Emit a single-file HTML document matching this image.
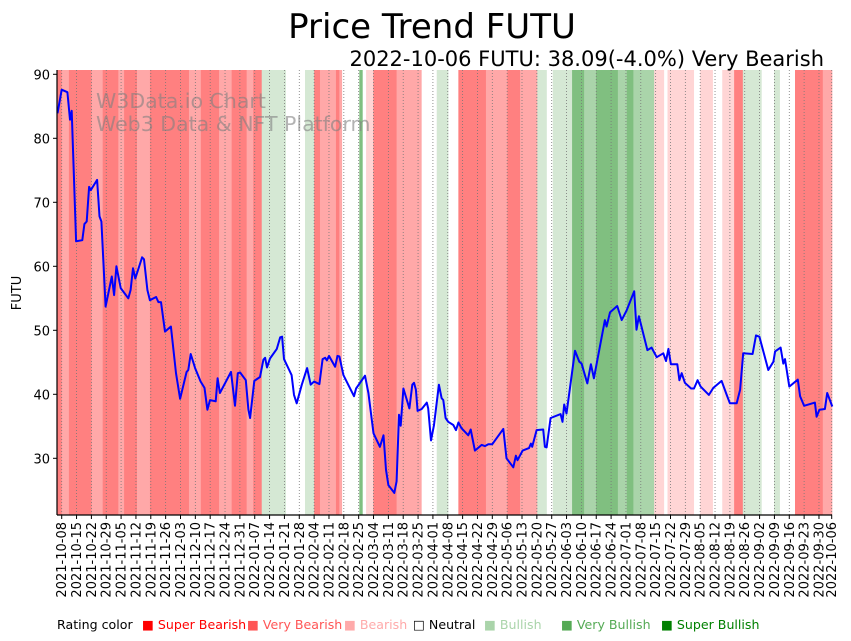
<!DOCTYPE html>
<html><head><meta charset="utf-8">
<style>
body{margin:0;background:#fff;width:851px;height:641px;overflow:hidden;font-family:"Liberation Sans","DejaVu Sans",sans-serif;}
#wrap{position:relative;width:851px;height:641px;}
.lg{position:absolute;top:617px;font-size:12.6px;font-family:"DejaVu Sans","Liberation Sans",sans-serif;white-space:nowrap;}
</style></head>
<body>
<div id="wrap">
<svg id="chart" width="851" height="641" style="position:absolute;left:0;top:0"></svg>
<span class="lg" style="left:57px;color:#000">Rating color</span>
<span class="lg" style="left:142px;color:#ff0000">■ Super Bearish</span>
<span class="lg" style="left:247px;color:#ff5555">■ Very Bearish</span>
<span class="lg" style="left:344px;color:#ffaaaa">■ Bearish</span>
<span class="lg" style="left:413px;color:#000">□ Neutral</span>
<span class="lg" style="left:484px;color:#aad4aa">■ Bullish</span>
<span class="lg" style="left:561px;color:#55aa55">■ Very Bullish</span>
<span class="lg" style="left:661px;color:#008000">■ Super Bullish</span>
</div>
<script>
// day offsets from 2021-10-08
const priceDays=[-2,0,2.7,3.9,4.7,6.8,9.7,10.7,11.8,12.9,13.7,16.7,17.8,18.7,20.7,23.6,24.7,25.8,27.8,31.4,32.5,33.6,34.7,37.9,38.8,40.4,41.6,44.5,45.6,46.8,48.7,51.5,53.9,55.8,58.9,59.7,60.8,62.9,65.5,67.3,68.7,69.9,72.6,73.5,74.6,79.8,81.7,83,84.1,86.8,88,88.8,90.8,93.5,95.1,95.9,96.8,98.2,101.4,103,103.9,104.8,108.4,109.5,110.8,113.2,115.7,117.4,119,121.5,123,124.2,125,126,128.9,130,130.9,132.8,137.8,138.8,143,144.6,147,150,151.7,152.9,154,156.8,157.9,159,159.8,161.1,163.9,165.3,166.1,167,167.8,169.7,172.1,172.8,174.1,175.5,177.8,179.1,179.9,181,182.2,184.6,185.9,187,188.5,191.7,192.8,194.8,198,199.5,201.1,203,208.2,209.7,212.9,214.1,214.9,217.3,220.3,221.2,221.8,223.9,227,227.8,228.6,230.5,235.2,236.1,236.9,238,242,244,245.1,247.8,249.5,250.9,256.1,256.9,258.5,261.9,264,266.3,269.9,271,272.1,276.1,278.1,280.5,283.6,284.9,286,287.2,290.2,291.2,292.3,293.8,296.7,298.1,299.8,301.2,305.1,307.2,311.1,313.5,315,318.2,319.8,321.3,325.7,327.3,328.9,333.1,335.5,336.3,338.9,340.2,341,343,347,348.1,350,355.1,355.9,357.2,359.8,360.9,363.3];
const priceVals=[83.9,87.6,87.2,82.9,84.3,63.9,64.1,66.6,67,72.4,71.9,73.5,67.8,67,53.7,58.4,55.5,60,56.6,55,56.3,59.7,58.1,61.4,61.1,56.3,54.7,55.2,54.4,54.4,49.8,50.6,43.3,39.3,43.5,43.8,46.3,44.1,42,41,37.6,39.1,38.9,42.5,40.2,43.5,38.2,43.3,43.4,42.2,37.6,36.3,42.1,42.7,45.4,45.7,44.2,45.6,47.1,48.9,49,45.5,43,39.9,38.6,41.5,44.1,41.5,42,41.6,45.5,45.7,45.3,46,44.3,46,45.9,43,39.7,40.9,42.9,40.2,33.9,31.8,33.6,28.2,25.8,24.6,26.4,36.8,35.1,40.9,37.8,41.5,41.8,40.7,37.4,37.7,38.7,37.8,32.8,35.2,41.5,39.4,39.1,36.3,35.7,35.2,34.4,35.6,34.7,33.6,34.5,31.2,32.1,31.9,32.2,32.2,34.6,30,28.6,30.4,29.7,31.2,31.6,32.3,31.8,34.4,34.5,31.8,31.7,36.3,36.9,35.7,38.4,37,46.8,45.1,44.8,41.7,44.7,42.5,51.6,50.6,52.8,53.8,51.6,53.1,56.1,50.1,52.2,46.9,47.3,45.8,46.4,45.2,47.1,44.7,44.7,42.2,43.3,41.8,40.9,40.9,42.2,41.2,39.9,41,42.1,39.9,38.6,38.6,40.7,46.4,46.3,49.2,49,43.8,45.1,46.7,47.3,44.8,45.5,41.2,42.3,39.7,38.2,38.7,36.5,37.6,37.7,40.2,38.1];
const bandEdges=[-2,0,3.4,14.1,19.3,26.7,29.4,35.5,41.6,60,65.6,74.2,80.1,87.2,90.3,94.3,105.7,114.7,119,121.8,129.3,130.9,132.2,140.3,141.9,143.5,146.9,157.9,169.7,176.8,182.3,187,200,210.1,216.1,224.2,228.7,231.5,240.6,246.3,251.9,262.2,266.4,269.5,279.3,284,285.6,298.1,301,307,311.4,317,321.1,330,335.8,338.6,345.7,358.8,364];
const bandLevels=[-3,-2,-3,-2,-3,-2,-3,-2,-3,-2,-3,-2,-3,-2,-3,1,0,1,-3,-2,-3,-2,0,3,0,-1,-3,-2,0,1,0,-3,-2,-3,-2,1,0,1,3,2,3,2,3,2,-1,0,-1,0,-1,0,-1,-3,1,0,1,0,-3,-2];
const yTicks=[30,40,50,60,70,80,90];
const xTickDays=[0,7,14,21,28,35,42,49,56,63,70,77,84,91,98,105,112,119,126,133,140,147,154,161,168,175,182,189,196,203,210,217,224,231,238,245,252,259,266,273,280,287,294,301,308,315,322,329,336,343,350,357,363];

const NS='http://www.w3.org/2000/svg';
const svg=document.getElementById('chart');
const L=57,R=832,T=70,B=515;
const X=d=>61.7+d*770/363;
const Y=v=>74.3+(90-v)*6.4;
function mk(tag,attrs){const e=document.createElementNS(NS,tag);for(const k in attrs)e.setAttribute(k,attrs[k]);svg.appendChild(e);return e;}
const colors={'-3':'#ff8080','-2':'#ffa8a8','-1':'#ffd5d5','0':'#ffffff','1':'#d5e8d4','2':'#aad4aa','3':'#80bf80'};
for(let i=0;i<bandLevels.length;i++){
  const x0=Math.max(L,X(bandEdges[i])),x1=Math.min(R,X(bandEdges[i+1]));
  const r=mk('rect',{x:x0,y:T,width:Math.max(0,x1-x0+0.3),height:B-T,fill:colors[bandLevels[i]]});
  
  
}
const w1=mk('text',{x:96,y:108,'font-size':20.5,fill:'#808080','fill-opacity':0.6,'font-family':'DejaVu Sans, Liberation Sans, sans-serif'});
w1.textContent='W3Data.io Chart';


const w2=mk('text',{x:96,y:131,'font-size':20.5,fill:'#808080','fill-opacity':0.6,'font-family':'DejaVu Sans, Liberation Sans, sans-serif'});
w2.textContent='Web3 Data & NFT Platform';


const start=new Date(Date.UTC(2021,9,8));
xTickDays.forEach(d=>{
  const x=X(d);
  const g=mk('line',{x1:x,x2:x,y1:T,y2:B,stroke:'#777','stroke-width':0.8,'stroke-dasharray':'1,2'});
  
  
  const t=mk('line',{x1:x,x2:x,y1:B,y2:B+4,stroke:'#000','stroke-width':1});
  
  
  const dt=new Date(start.getTime()+d*86400000);
  const s=dt.toISOString().slice(0,10);
  const lb=mk('text',{x:0,y:0,'font-size':13,'text-anchor':'end','font-family':'DejaVu Sans, Liberation Sans, sans-serif',transform:`translate(${x+4.5},${B+7}) rotate(-90)`});
  lb.textContent=s;
  
  
});
const pts=priceDays.map((d,i)=>`${Math.max(L,X(d)).toFixed(1)},${Y(priceVals[i]).toFixed(1)}`).join(' ');
const pl=mk('polyline',{points:pts,fill:'none',stroke:'#0000ff','stroke-width':2,'stroke-linejoin':'round'});


yTicks.forEach(v=>{
  const y=Y(v);
  const t=mk('line',{x1:L-4,x2:L,y1:y,y2:y,stroke:'#000'});
  
  
  const lb=mk('text',{x:L-7,y:y+5,'font-size':13,'text-anchor':'end','font-family':'DejaVu Sans, Liberation Sans, sans-serif'});
  lb.textContent=v;
  
  
});
const ax1=mk('line',{x1:L,x2:L,y1:T,y2:B,stroke:'#000','stroke-width':1.2});


const ax2=mk('line',{x1:L,x2:R,y1:B,y2:B,stroke:'#000','stroke-width':1.2});


const yt=mk('text',{x:0,y:0,'font-size':13,'text-anchor':'middle','font-family':'DejaVu Sans, Liberation Sans, sans-serif',transform:'translate(21,293) rotate(-90)'});
yt.textContent='FUTU';


const tt=mk('text',{x:432,y:38,'font-size':34,'text-anchor':'middle','font-family':'DejaVu Sans, Liberation Sans, sans-serif'});
tt.textContent='Price Trend FUTU';


const st=mk('text',{x:824,y:66,'font-size':21,'text-anchor':'end','font-family':'DejaVu Sans, Liberation Sans, sans-serif'});
st.textContent='2022-10-06 FUTU: 38.09(-4.0%) Very Bearish';


</script>
</body></html>
